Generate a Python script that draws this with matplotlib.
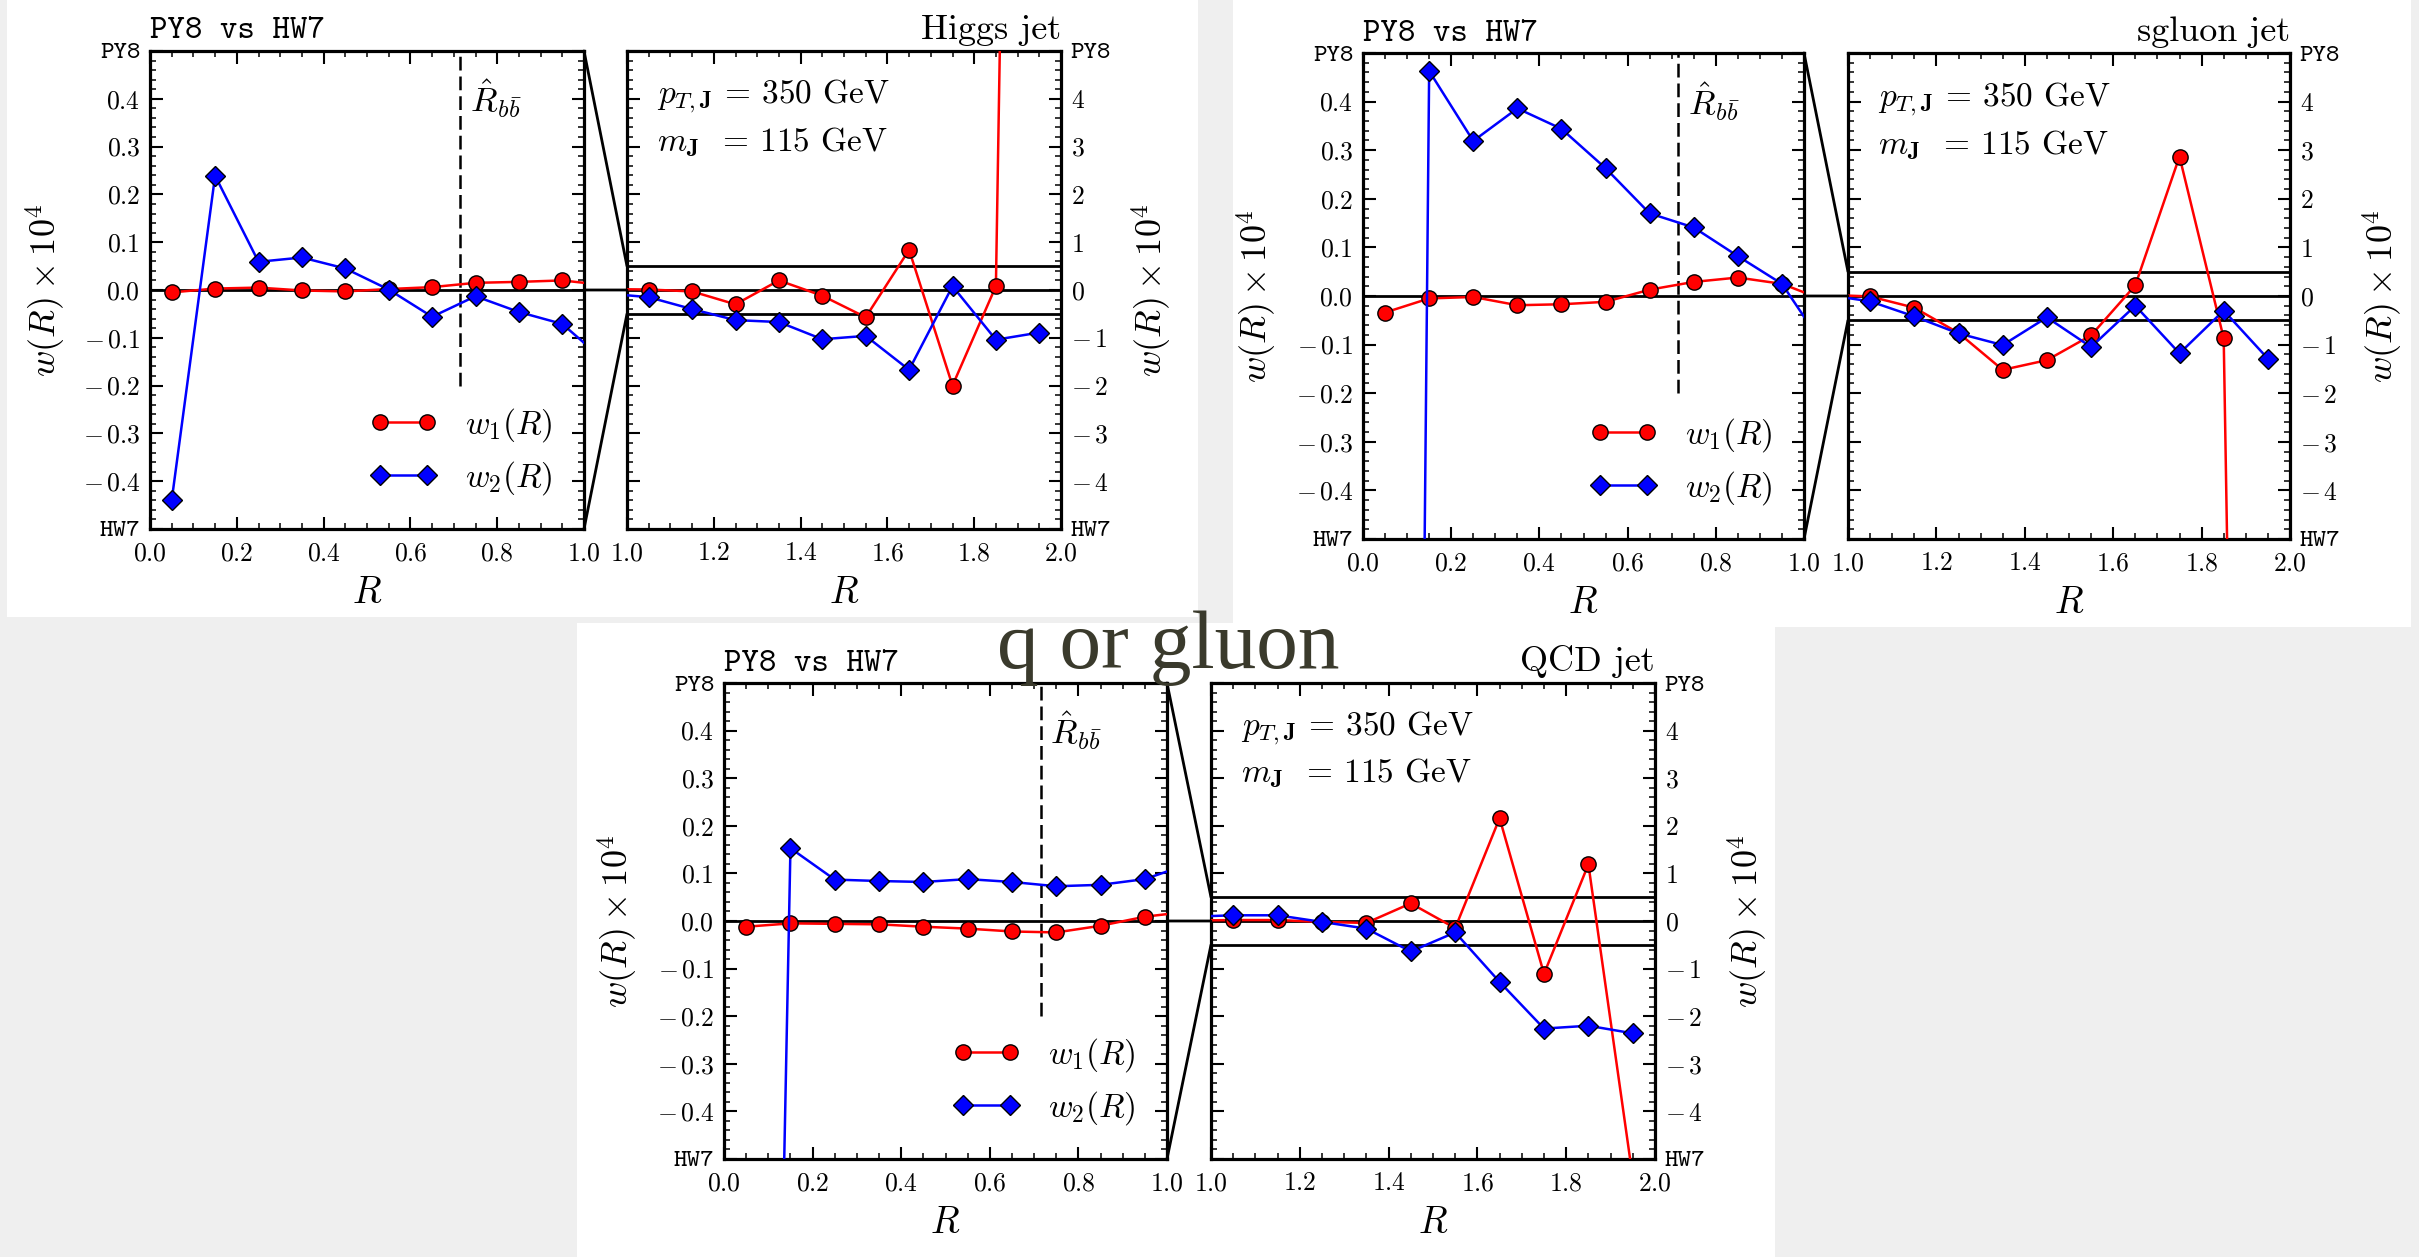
import matplotlib
matplotlib.use("Agg")
import matplotlib.pyplot as plt
from matplotlib.patches import Rectangle, ConnectionPatch
from matplotlib.ticker import MultipleLocator

plt.rcParams['mathtext.fontset'] = 'cm'
plt.rcParams['font.family'] = 'serif'
plt.rcParams['font.serif'] = ['cmr10']
plt.rcParams['axes.unicode_minus'] = False

# ---------------- data ----------------
R = [0.05, 0.15, 0.25, 0.35, 0.45, 0.55, 0.65, 0.75, 0.85, 0.95,
     1.05, 1.15, 1.25, 1.35, 1.45, 1.55, 1.65, 1.75, 1.85, 1.95]

higgs_w1 = [-0.005, 0.003, 0.005, -0.001, -0.003, 0.002, 0.006, 0.015, 0.017, 0.020,
            0.01, -0.03, -0.30, 0.20, -0.12, -0.57, 0.84, -2.00, 0.08, 55.0]
higgs_w2 = [-0.44, 0.239, 0.059, 0.068, 0.045, 0.001, -0.056, -0.013, -0.046, -0.071,
            -0.15, -0.40, -0.63, -0.67, -1.03, -0.96, -1.67, 0.08, -1.04, -0.89]

sgluon_w1 = [-0.034, -0.005, -0.002, -0.019, -0.017, -0.012, 0.013, 0.029, 0.038, 0.025,
             -0.01, -0.24, -0.76, -1.52, -1.32, -0.81, 0.22, 2.87, -0.87, -55.0]
sgluon_w2 = [-9.0, 0.463, 0.319, 0.386, 0.344, 0.263, 0.170, 0.141, 0.082, 0.025,
             -0.11, -0.42, -0.77, -1.01, -0.44, -1.05, -0.20, -1.18, -0.30, -1.29]

qcd_w1 = [-0.012, -0.005, -0.006, -0.007, -0.012, -0.016, -0.022, -0.024, -0.010, 0.009,
          0.02, 0.02, -0.02, -0.04, 0.37, -0.15, 2.16, -1.11, 1.19, -5.4]
qcd_w2 = [-4.5, 0.153, 0.087, 0.084, 0.082, 0.088, 0.082, 0.073, 0.076, 0.088,
          0.12, 0.12, -0.02, -0.16, -0.64, -0.24, -1.28, -2.26, -2.20, -2.36]

R_BB = 0.715                 # \hat R_{b bbar}
R_BB_YMIN = -0.2
titles = ['Higgs jet', 'sgluon jet', 'QCD jet']
left_title = 'PY8 vs HW7'
pt_text = r'$p_{T,\mathbf{J}}$ = 350 GeV'
m_text = r'$m_{\mathbf{J}}$  = 115 GeV'
overlay_text = 'q or gluon'

left_yticks = [-0.5, -0.4, -0.3, -0.2, -0.1, 0.0, 0.1, 0.2, 0.3, 0.4, 0.5]
right_yticks = [-5, -4, -3, -2, -1, 0, 1, 2, 3, 4, 5]
left_xticks = [0.0, 0.2, 0.4, 0.6, 0.8, 1.0]
right_xticks = [1.0, 1.2, 1.4, 1.6, 1.8, 2.0]
band = 0.5

# ---------------- layout ----------------
W, H = 2419, 1257
fig = plt.figure(figsize=(W / 100, H / 100), dpi=100)
fig.patch.set_facecolor('#efefef')


def frect(x0, y0, x1, y1):
    return [x0 / W, 1 - y1 / H, (x1 - x0) / W, (y1 - y0) / H]


for (x0, y0, x1, y1) in [(7, 0, 1198, 617), (1233, 0, 2411, 627), (577, 623, 1775, 1257)]:
    b = frect(x0, y0, x1, y1)
    fig.add_artist(Rectangle((b[0], b[1]), b[2], b[3], transform=fig.transFigure,
                             facecolor='white', edgecolor='none', zorder=-10))

boxes = [((150, 51, 584, 529), (627, 51, 1061, 529)),
         ((1363, 53, 1804, 539), (1848, 53, 2290, 539)),
         ((724, 683, 1167, 1159), (1211, 683, 1655, 1159))]
series = [(higgs_w1, higgs_w2), (sgluon_w1, sgluon_w2), (qcd_w1, qcd_w2)]


def fmt(v, nd):
    s = '%.*f' % (nd, abs(v))
    if v < 0:
        return r'$-\,' + s + '$'
    return '$' + s + '$'


def style(ax):
    ax.tick_params(which='both', direction='in', top=True, bottom=True, left=True, right=True)
    ax.tick_params(which='major', length=9, width=1.5, labelsize=18.5, pad=7)
    ax.tick_params(which='minor', length=4.5, width=1.1)
    ax.tick_params(axis='x', which='major', pad=9)
    for s in ax.spines.values():
        s.set_linewidth(2.3)


for (bl, br), (w1, w2), title in zip(boxes, series, titles):
    axL = fig.add_axes(frect(*bl))
    axR = fig.add_axes(frect(*br))
    for ax in (axL, axR):
        ax.plot(R, w1, color='red', lw=1.8, marker='o', ms=11, mfc='red', mec='black',
                mew=1.0, zorder=3, label=r'$w_1(R)$')
        ax.plot(R, w2, color='blue', lw=1.8, marker='D', ms=9.8, mfc='blue', mec='black',
                mew=1.0, zorder=3, label=r'$w_2(R)$')
        ax.axhline(0, color='black', lw=2.0, zorder=1.5)
        style(ax)
    # left axes
    axL.set_xlim(0, 1)
    axL.set_ylim(-0.5, 0.5)
    axL.set_xticks(left_xticks, [fmt(v, 1) for v in left_xticks])
    lab = [fmt(v, 1) for v in left_yticks]
    lab[0], lab[-1] = 'HW7', 'PY8'
    axL.set_yticks(left_yticks, lab)
    axL.xaxis.set_minor_locator(MultipleLocator(0.05))
    axL.yaxis.set_minor_locator(MultipleLocator(0.02))
    for t in (axL.get_yticklabels()[0], axL.get_yticklabels()[-1]):
        t.set_fontfamily('cmtt10')
    axL.vlines(R_BB, R_BB_YMIN, 0.5, colors='black', linestyles=(0, (5.5, 2.4)), lw=1.8)
    axL.text(R_BB + 0.022, 0.40, r'$\hat{R}_{b\bar{b}}$', fontsize=25, va='center', ha='left')
    axL.set_xlabel(r'$R$', fontsize=27, labelpad=8)
    axL.set_ylabel(r'$w(R)\times 10^4$', fontsize=26)
    axL.yaxis.set_label_coords(-0.19, 0.5)
    axL.set_title(left_title, loc='left', fontsize=24, family='cmtt10', pad=9)
    axL.legend(loc='lower right', frameon=False, numpoints=2, fontsize=24,
               handlelength=2.0, handletextpad=0.83, labelspacing=0.45,
               borderaxespad=0.55)
    # right axes
    axR.set_xlim(1, 2)
    axR.set_ylim(-5, 5)
    axR.set_xticks(right_xticks, [fmt(v, 1) for v in right_xticks])
    labr = [fmt(v, 0) for v in right_yticks]
    labr[0], labr[-1] = 'HW7', 'PY8'
    axR.set_yticks(right_yticks, labr)
    axR.xaxis.set_minor_locator(MultipleLocator(0.05))
    axR.yaxis.set_minor_locator(MultipleLocator(0.2))
    axR.tick_params(labelleft=False, labelright=True)
    for t in (axR.get_yticklabels()[0], axR.get_yticklabels()[-1]):
        t.set_fontfamily('cmtt10')
    axR.yaxis.set_label_position('right')
    axR.set_ylabel(r'$w(R)\times 10^4$', fontsize=26)
    axR.yaxis.set_label_coords(1.16, 0.5)
    axR.set_xlabel(r'$R$', fontsize=27, labelpad=8)
    axR.set_title(title, loc='right', fontsize=26, pad=9)
    axR.axhline(band, color='black', lw=2.0, zorder=1.5)
    axR.axhline(-band, color='black', lw=2.0, zorder=1.5)
    axR.text(0.068, 0.905, pt_text, transform=axR.transAxes, fontsize=24, va='center')
    axR.text(0.068, 0.81, m_text, transform=axR.transAxes, fontsize=24, va='center')
    # zoom connectors
    for yl, yr in [(0.5, band), (-0.5, -band), (0.0, 0.0)]:
        con = ConnectionPatch(xyA=(1.0, yl), coordsA=axL.transData,
                              xyB=(1.0, yr), coordsB=axR.transData,
                              color='black', lw=2.0, zorder=5)
        fig.add_artist(con)

fig.text(1168 / W, 1 - 668 / H, overlay_text, ha='center', va='baseline', fontsize=60,
         family='Liberation Serif', color='#3a3a2c', zorder=20)

fig.savefig('out.png', dpi=100, facecolor=fig.get_facecolor())
